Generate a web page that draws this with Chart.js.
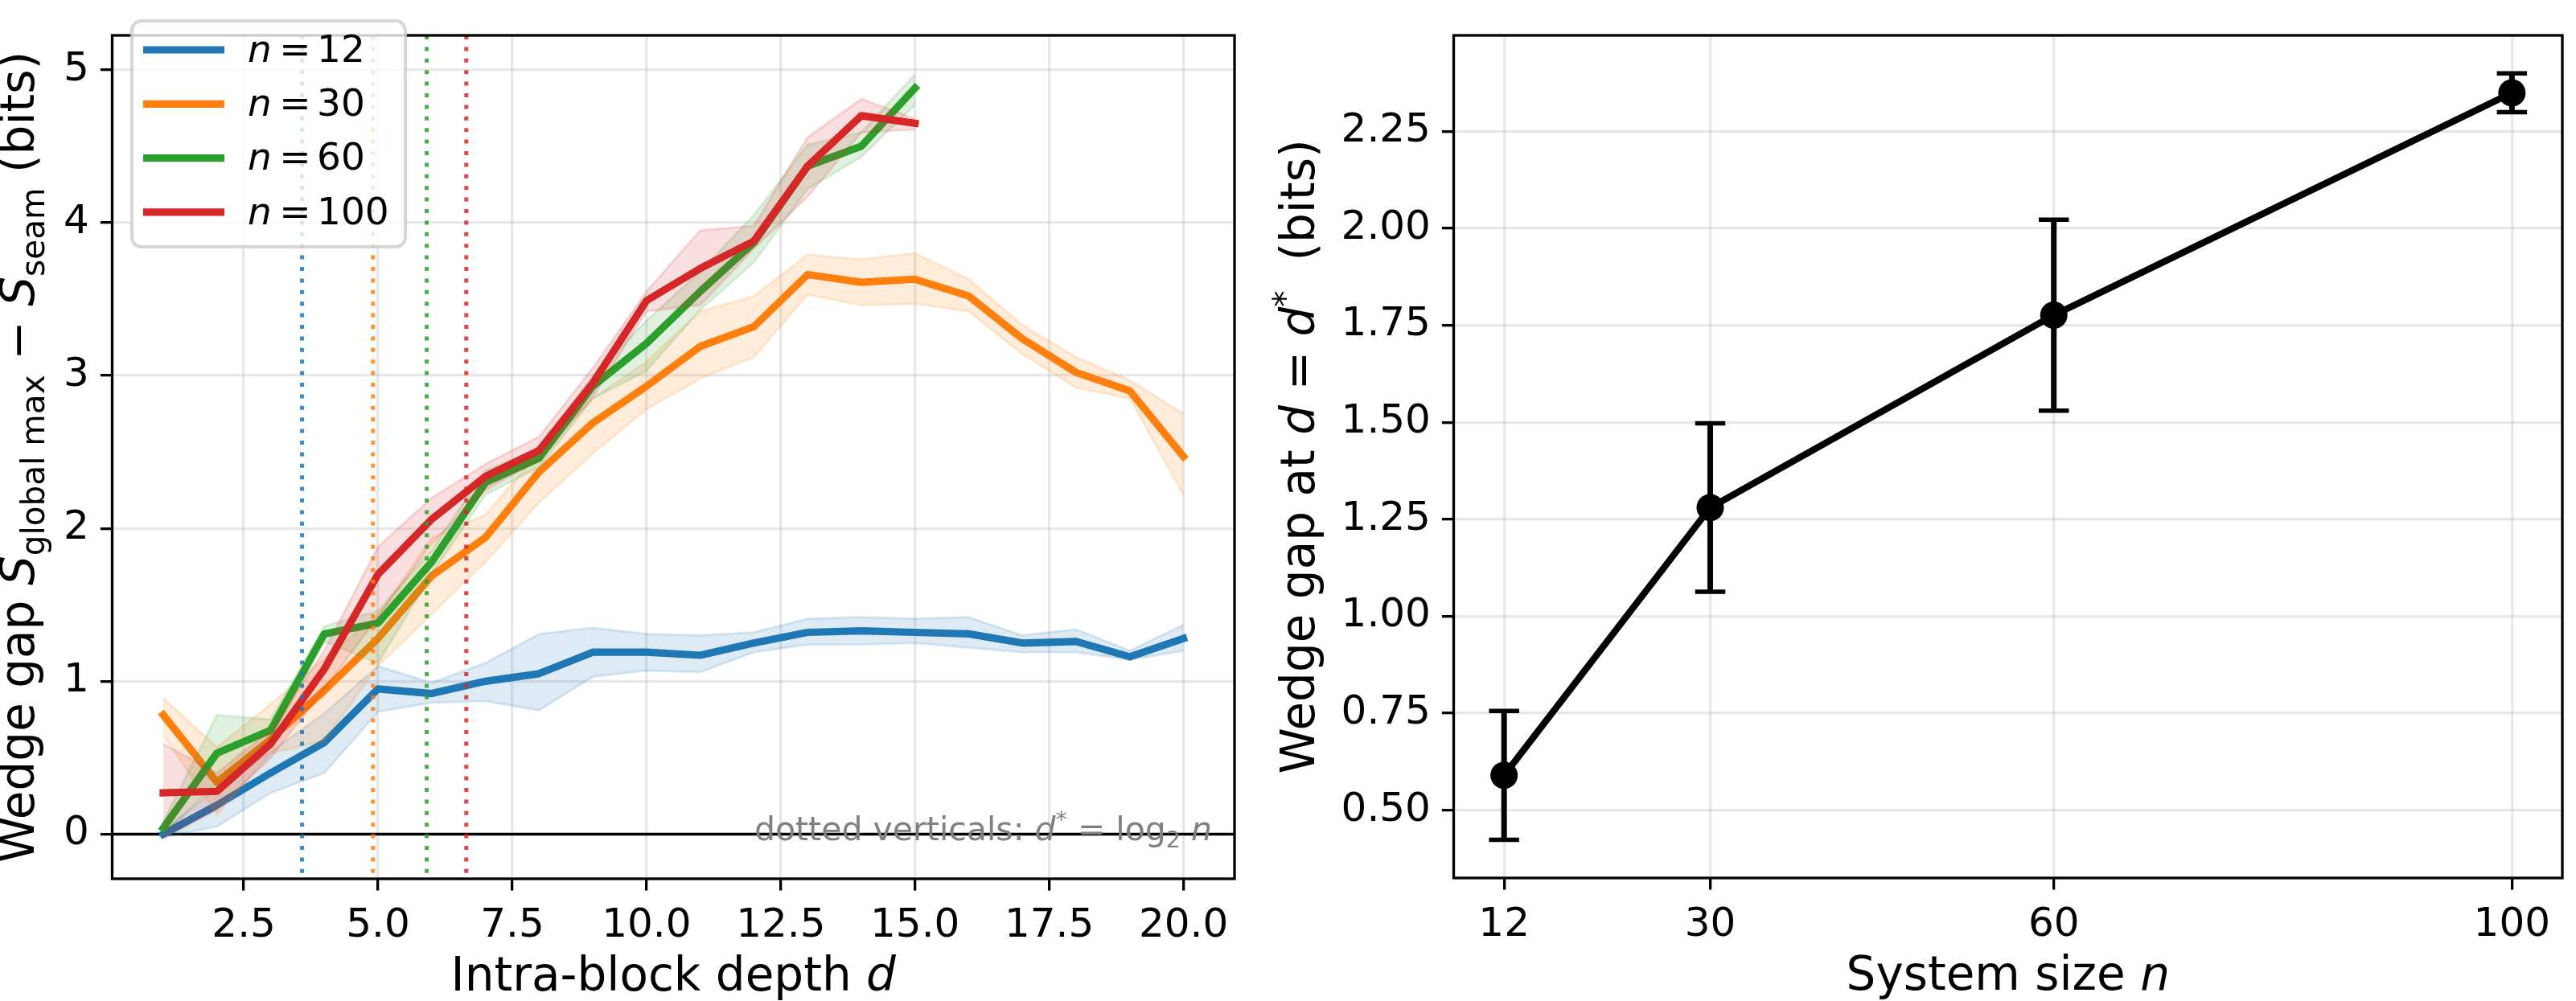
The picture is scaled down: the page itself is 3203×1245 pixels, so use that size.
<!DOCTYPE html>
<html lang="en">
<head>
<meta charset="UTF-8">
<title>Wedge gap</title>
<script src="https://cdn.jsdelivr.net/npm/chart.js"></script>
<style>
    body { margin: 0; background: #fff; width: 3203px; height: 1245px; overflow: hidden; position: relative; }
    canvas { position: absolute; top: 0; }
    #chartDepth { left: 0; }
    #chartSize { left: 1560px; }
</style>
</head>
<body>
<canvas id="chartDepth" width="1560" height="1245"></canvas>
<canvas id="chartSize" width="1643" height="1245"></canvas>

<script>
    // ---- data ----
    const depthLong = [1, 2, 3, 4, 5, 6, 7, 8, 9, 10, 11, 12, 13, 14, 15, 16, 17, 18, 19, 20];
    const depthShort = [1, 2, 3, 4, 5, 6, 7, 8, 9, 10, 11, 12, 13, 14, 15];

    const gapN12 = [0.00, 0.19, 0.40, 0.60, 0.95, 0.92, 1.00, 1.05, 1.19, 1.19, 1.17, 1.25, 1.32, 1.33, 1.32, 1.31, 1.25, 1.26, 1.16, 1.28];
    const lowN12 = [-0.02, 0.05, 0.27, 0.40, 0.80, 0.86, 0.87, 0.81, 1.03, 1.07, 1.06, 1.19, 1.24, 1.24, 1.25, 1.22, 1.19, 1.19, 1.14, 1.20];
    const highN12 = [0.02, 0.30, 0.54, 0.79, 1.10, 0.99, 1.12, 1.31, 1.35, 1.31, 1.30, 1.32, 1.41, 1.42, 1.41, 1.42, 1.30, 1.34, 1.20, 1.37];

    const gapN30 = [0.78, 0.34, 0.62, 0.94, 1.28, 1.69, 1.94, 2.37, 2.69, 2.93, 3.19, 3.32, 3.66, 3.61, 3.63, 3.52, 3.24, 3.02, 2.90, 2.47];
    const lowN30 = [0.65, 0.13, 0.53, 0.61, 1.10, 1.44, 1.78, 2.17, 2.49, 2.78, 2.98, 3.12, 3.53, 3.46, 3.47, 3.42, 3.14, 2.92, 2.85, 2.22];
    const highN30 = [0.89, 0.57, 0.85, 1.15, 1.43, 1.94, 2.09, 2.50, 2.85, 3.09, 3.42, 3.52, 3.79, 3.76, 3.80, 3.63, 3.33, 3.12, 2.97, 2.75];

    const gapN60 = [0.04, 0.53, 0.68, 1.31, 1.38, 1.78, 2.30, 2.46, 2.93, 3.21, 3.55, 3.87, 4.37, 4.50, 4.88];
    const lowN60 = [0.00, 0.33, 0.62, 1.26, 1.12, 1.70, 2.22, 2.40, 2.85, 3.03, 3.43, 3.74, 4.22, 4.43, 4.77];
    const highN60 = [0.08, 0.78, 0.75, 1.36, 1.46, 1.86, 2.38, 2.52, 3.00, 3.36, 3.68, 4.05, 4.51, 4.59, 4.97];

    const gapN100 = [0.27, 0.28, 0.59, 1.08, 1.70, 2.06, 2.34, 2.51, 2.95, 3.49, 3.70, 3.88, 4.37, 4.70, 4.65];
    const lowN100 = [-0.03, 0.16, 0.50, 0.95, 1.42, 1.90, 2.25, 2.45, 2.86, 3.42, 3.46, 3.83, 4.17, 4.59, 4.61];
    const highN100 = [0.59, 0.40, 0.68, 1.20, 1.88, 2.20, 2.42, 2.60, 3.05, 3.55, 3.95, 3.98, 4.56, 4.81, 4.68];

    const systemSizes = [12, 30, 60, 100];
    const gapAtDstar = [0.59, 1.28, 1.776, 2.349];
    const gapAtDstarErr = [0.166, 0.217, 0.246, 0.05];

    const depthTicks = [2.5, 5, 7.5, 10, 12.5, 15, 17.5, 20];
    const gapTicks = [0, 1, 2, 3, 4, 5];
    const sizeTicks = [12, 30, 60, 100];
    const gapStarTicks = [0.5, 0.75, 1, 1.25, 1.5, 1.75, 2, 2.25];

    // ---- styles ----
    const FONT = '"DejaVu Sans"';
    const gridColor = 'rgba(176,176,176,0.3)';
    const seriesColors = ['#1f77b4', '#ff7f0e', '#2ca02c', '#d62728'];
    const seriesRgb = ['31,119,180', '255,127,14', '44,160,44', '214,39,40'];

    const series = [
        { x: depthLong, mean: gapN12, lo: lowN12, hi: highN12 },
        { x: depthLong, mean: gapN30, lo: lowN30, hi: highN30 },
        { x: depthShort, mean: gapN60, lo: lowN60, hi: highN60 },
        { x: depthShort, mean: gapN100, lo: lowN100, hi: highN100 }
    ];

    // draws a run of text pieces (italic / sub / sup) one after another
    function drawRich(ctx, parts, x, y, size, align) {
        let total = 0;
        const runs = parts.map(function (p) {
            const s = (p.sub || p.sup) ? size * 0.7 : size;
            const font = (p.it ? 'italic ' : '') + s + 'px ' + FONT;
            ctx.font = font;
            const w = ctx.measureText(p.t).width;
            total += w;
            return { p: p, w: w, font: font };
        });
        let cx = x;
        if (align === 'center') cx = x - total / 2;
        if (align === 'right') cx = x - total;
        ctx.textAlign = 'left';
        ctx.textBaseline = 'alphabetic';
        runs.forEach(function (r) {
            ctx.font = r.font;
            let dy = 0;
            if (r.p.sub) dy = size * 0.22;
            if (r.p.sup) dy = -size * 0.38;
            ctx.fillText(r.p.t, cx, y + dy);
            cx += r.w;
        });
    }

    function frame(chart) {
        const a = chart.chartArea, ctx = chart.ctx;
        ctx.save();
        ctx.strokeStyle = '#000';
        ctx.lineWidth = 3.3;
        ctx.strokeRect(a.left, a.top, a.right - a.left, a.bottom - a.top);
        ctx.restore();
    }

    function axisOptions(min, max, tickList, fmt, fit) {
        return {
            type: 'linear',
            min: min,
            max: max,
            afterBuildTicks: function (s) { s.ticks = tickList.map(function (v) { return { value: v }; }); },
            afterFit: fit,
            ticks: {
                font: { family: 'DejaVu Sans', size: 50 },
                color: '#000',
                padding: 14,
                autoSkip: false,
                maxRotation: 0,
                callback: fmt
            },
            grid: { color: gridColor, lineWidth: 3.3, tickColor: '#000', tickLength: 14.6, tickWidth: 3.3 },
            border: { display: false }
        };
    }

    // ---- left: gap vs depth ----
    const datasetsDepth = [];
    let z = 0;
    series.forEach(function (s, k) {
        const pts = function (ys) { return s.x.map(function (d, i) { return { x: d, y: ys[i] }; }); };
        const band = 'rgba(' + seriesRgb[k] + ',0.15)';
        datasetsDepth.push({ data: pts(s.hi), borderColor: band, backgroundColor: band, borderWidth: 3, fill: '+1', pointRadius: 0, order: 100 - z });
        datasetsDepth.push({ data: pts(s.lo), borderColor: band, borderWidth: 3, fill: false, pointRadius: 0, order: 100 - z });
        z++;
        datasetsDepth.push({
            label: 'n = ' + systemSizes[k],
            data: pts(s.mean),
            borderColor: seriesColors[k],
            borderWidth: 9.2,
            borderCapStyle: 'square',
            borderJoinStyle: 'round',
            fill: false,
            pointRadius: 0,
            order: 100 - z
        });
        z++;
    });

    const depthExtras = {
        id: 'depthExtras',
        beforeDatasetsDraw: function (chart) {
            const ctx = chart.ctx, a = chart.chartArea;
            const y0 = chart.scales.y.getPixelForValue(0);
            ctx.save();
            ctx.strokeStyle = '#000';
            ctx.lineWidth = 3.3;
            ctx.beginPath();
            ctx.moveTo(a.left, y0);
            ctx.lineTo(a.right, y0);
            ctx.stroke();
            ctx.restore();
        },
        afterDatasetsDraw: function (chart) {
            const ctx = chart.ctx, a = chart.chartArea;
            ctx.save();
            // dotted verticals at d* = log2 n
            ctx.lineWidth = 5;
            ctx.setLineDash([5, 9.4]);
            systemSizes.forEach(function (n, k) {
                const px = chart.scales.x.getPixelForValue(Math.log2(n));
                ctx.strokeStyle = 'rgba(' + seriesRgb[k] + ',0.85)';
                ctx.beginPath();
                ctx.moveTo(px, a.top);
                ctx.lineTo(px, a.bottom);
                ctx.stroke();
            });
            ctx.setLineDash([]);
            ctx.restore();

            frame(chart);

            // note
            ctx.save();
            ctx.fillStyle = '#808080';
            drawRich(ctx, [
                { t: 'dotted verticals: ' }, { t: 'd', it: true }, { t: '*', sup: true },
                { t: ' = log' }, { t: '2', sub: true }, { t: ' ' }, { t: 'n', it: true }
            ], a.left + 0.98 * (a.right - a.left), 1045, 41, 'right');
            ctx.restore();

            // legend box
            ctx.save();
            ctx.fillStyle = 'rgba(255,255,255,0.8)';
            ctx.strokeStyle = 'rgba(204,204,204,0.8)';
            ctx.lineWidth = 4;
            ctx.beginPath();
            ctx.roundRect(164, 26, 340, 281, 12);
            ctx.fill();
            ctx.stroke();
            ctx.textBaseline = 'alphabetic';
            systemSizes.forEach(function (n, k) {
                const ly = 62 + k * 67.3;
                ctx.strokeStyle = seriesColors[k];
                ctx.lineWidth = 9.2;
                ctx.beginPath();
                ctx.moveTo(178, ly);
                ctx.lineTo(279, ly);
                ctx.stroke();
                ctx.fillStyle = '#000';
                ctx.font = 'italic 47px ' + FONT;
                ctx.textAlign = 'left';
                ctx.fillText('n', 308, ly + 14.7);
                ctx.font = '47px ' + FONT;
                ctx.textAlign = 'center';
                ctx.fillText('=', 367, ly + 14.7);
                ctx.textAlign = 'left';
                ctx.fillText(String(n), 394, ly + 14.7);
            });
            ctx.restore();
        },
        afterDraw: function (chart) {
            const ctx = chart.ctx, a = chart.chartArea;
            ctx.save();
            ctx.fillStyle = '#000';
            drawRich(ctx, [{ t: 'Intra-block depth ' }, { t: 'd', it: true }], (a.left + a.right) / 2, 1232, 58, 'center');
            ctx.translate(42, (a.top + a.bottom) / 2);
            ctx.rotate(-Math.PI / 2);
            drawRich(ctx, [
                { t: 'Wedge gap ' }, { t: 'S', it: true }, { t: 'global max', sub: true },
                { t: ' \u2212 ' }, { t: 'S', it: true }, { t: 'seam', sub: true }, { t: ' (bits)' }
            ], 0, 0, 58, 'center');
            ctx.restore();
        }
    };

    const chartDepth = new Chart(document.getElementById('chartDepth'), {
        type: 'line',
        data: { datasets: datasetsDepth },
        plugins: [depthExtras],
        options: {
            responsive: false,
            animation: false,
            devicePixelRatio: 1,
            events: [],
            layout: { padding: { top: 2, right: 25, left: 0, bottom: 0 } },
            plugins: { legend: { display: false }, tooltip: { enabled: false } },
            scales: {
                x: axisOptions(0.05, 20.95, depthTicks, function (v) { return v.toFixed(1); }, function (s) { s.height = 152; }),
                y: axisOptions(-0.292, 5.225, gapTicks, function (v) { return String(v); }, function (s) { s.width = 139.5; })
            }
        }
    });

    // ---- right: gap at d* vs n ----
    const sizeExtras = {
        id: 'sizeExtras',
        beforeDatasetsDraw: function (chart) {
            const ctx = chart.ctx, xs = chart.scales.x, ys = chart.scales.y;
            ctx.save();
            ctx.strokeStyle = '#000';
            systemSizes.forEach(function (n, i) {
                const px = xs.getPixelForValue(n);
                const top = ys.getPixelForValue(gapAtDstar[i] + gapAtDstarErr[i]);
                const bot = ys.getPixelForValue(gapAtDstar[i] - gapAtDstarErr[i]);
                ctx.lineWidth = 7;
                ctx.beginPath();
                ctx.moveTo(px, top);
                ctx.lineTo(px, bot);
                ctx.stroke();
                ctx.lineWidth = 5.5;
                ctx.beginPath();
                ctx.moveTo(px - 18.75, top);
                ctx.lineTo(px + 18.75, top);
                ctx.moveTo(px - 18.75, bot);
                ctx.lineTo(px + 18.75, bot);
                ctx.stroke();
            });
            ctx.restore();
        },
        afterDatasetsDraw: function (chart) {
            frame(chart);
        },
        afterDraw: function (chart) {
            const ctx = chart.ctx, a = chart.chartArea;
            ctx.save();
            ctx.fillStyle = '#000';
            drawRich(ctx, [{ t: 'System size ' }, { t: 'n', it: true }], (a.left + a.right) / 2, 1231, 58, 'center');
            ctx.translate(74, (a.top + a.bottom) / 2);
            ctx.rotate(-Math.PI / 2);
            drawRich(ctx, [
                { t: 'Wedge gap at ' }, { t: 'd', it: true }, { t: ' = ' }, { t: 'd', it: true },
                { t: '*', sup: true }, { t: '  (bits)' }
            ], 0, 0, 58, 'center');
            ctx.restore();
        }
    };

    const chartSize = new Chart(document.getElementById('chartSize'), {
        type: 'line',
        data: {
            datasets: [{
                data: systemSizes.map(function (n, i) { return { x: n, y: gapAtDstar[i] }; }),
                borderColor: '#000',
                borderWidth: 8.3,
                borderJoinStyle: 'round',
                fill: false,
                pointRadius: 17,
                pointBackgroundColor: '#000',
                pointBorderWidth: 0
            }]
        },
        plugins: [sizeExtras],
        options: {
            responsive: false,
            animation: false,
            devicePixelRatio: 1,
            events: [],
            layout: { padding: { top: 2, right: 5, left: 0, bottom: 0 } },
            plugins: { legend: { display: false }, tooltip: { enabled: false } },
            scales: {
                x: axisOptions(7.6, 104.4, sizeTicks, function (v) { return String(v); }, function (s) { s.height = 153; }),
                y: axisOptions(0.3255, 2.497, gapStarTicks, function (v) { return v.toFixed(2); }, function (s) { s.width = 247.5; })
            }
        }
    });
</script>
</body>
</html>
